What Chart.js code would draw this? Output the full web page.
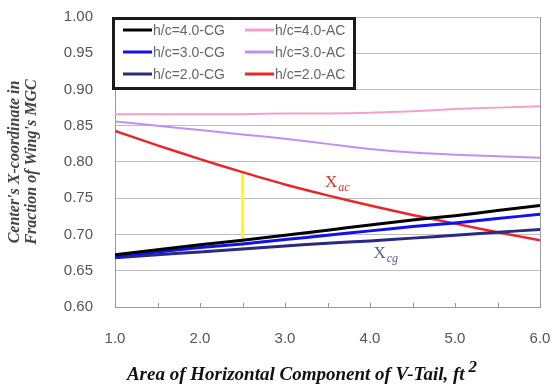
<!DOCTYPE html>
<html><head><meta charset="utf-8">
<script src="https://cdn.jsdelivr.net/npm/chart.js@4.4.0/dist/chart.umd.min.js"></script>
<style>html,body{margin:0;padding:0;background:#fff;}</style>
</head><body>
<canvas id="c" width="552" height="387"></canvas>
<script>
// ---- data ----
const areaValues = [1.0, 1.5, 2.0, 2.5, 3.0, 3.5, 4.0, 4.5, 5.0, 5.5, 6.0];
const cgH40 = [0.672, 0.679, 0.686, 0.692, 0.699, 0.706, 0.713, 0.720, 0.726, 0.733, 0.740];
const cgH30 = [0.670, 0.676, 0.682, 0.687, 0.693, 0.699, 0.705, 0.711, 0.716, 0.722, 0.728];
const cgH20 = [0.668, 0.672, 0.676, 0.680, 0.684, 0.688, 0.691, 0.695, 0.699, 0.703, 0.707];
const acH40 = [0.866, 0.866, 0.866, 0.866, 0.867, 0.867, 0.868, 0.870, 0.873, 0.875, 0.877];
const acH30 = [0.856, 0.850, 0.844, 0.838, 0.832, 0.825, 0.818, 0.813, 0.810, 0.808, 0.806];
const acH20 = [0.843, 0.823, 0.804, 0.786, 0.769, 0.754, 0.740, 0.727, 0.715, 0.703, 0.692];
const marginX = [2.5, 2.5];
const marginY = [0.681, 0.786];
const seriesNames = ['h/c=4.0-CG', 'h/c=3.0-CG', 'h/c=2.0-CG', 'h/c=4.0-AC', 'h/c=3.0-AC', 'h/c=2.0-AC'];
const xTickLabels = ['1.0', '2.0', '3.0', '4.0', '5.0', '6.0'];
const xTickMarks = [1.5, 2.0, 2.5, 3.0, 3.5, 4.0, 4.5, 5.0, 5.5];
const yAxisTitle = ["Center's X-coordinate in", "Fraction of Wing's MGC"];
const xAxisTitle = 'Area of Horizontal Component of V-Tail, ft';
const xAxisTitleSup = '2';
const acLabel = { x: 3.47, y: 0.766, main: 'X', sub: 'ac' };
const cgLabel = { x: 4.04, y: 0.667, main: 'X', sub: 'cg' };

// ---- styles ----
const seriesStyles = [
  { color: '#000000', width: 3 },
  { color: '#1010f0', width: 3 },
  { color: '#2a2a80', width: 3 },
  { color: '#f4a0c8', width: 2 },
  { color: '#c090f0', width: 2 },
  { color: '#e8262b', width: 2.5 }
];
const seriesData = [cgH40, cgH30, cgH20, acH40, acH30, acH20];
const toPts = arr => arr.map((v, i) => ({ x: areaValues[i], y: v }));

const order = [3, 4, 0, 1, 2, 5];
const datasets = order.map(i => ({
  label: seriesNames[i],
  data: toPts(seriesData[i]),
  borderColor: seriesStyles[i].color,
  backgroundColor: seriesStyles[i].color,
  borderWidth: seriesStyles[i].width,
  pointRadius: 0,
  tension: 0.3,
  fill: false
}));
datasets.push({
  label: 'margin',
  data: marginX.map((x, i) => ({ x: x, y: marginY[i] })),
  borderColor: '#ffff00',
  borderWidth: 3,
  pointRadius: 0,
  fill: false
});

const overlay = {
  id: 'overlay',
  beforeDatasetsDraw(chart) {
    const { ctx, chartArea: a, scales: { x } } = chart;
    ctx.save();
    ctx.strokeStyle = '#999';
    ctx.lineWidth = 1;
    ctx.beginPath();
    ctx.moveTo(Math.round(a.right) + 0.5, a.top);
    ctx.lineTo(Math.round(a.right) + 0.5, a.bottom);
    xTickMarks.forEach(v => {
      const px = Math.round(x.getPixelForValue(v)) + 0.5;
      ctx.moveTo(px, a.bottom);
      ctx.lineTo(px, a.bottom - 4);
    });
    ctx.stroke();
    ctx.restore();
  },
  afterDraw(chart) {
    const { ctx, chartArea: a, scales: { x, y } } = chart;
    ctx.save();
    const L = a.left - 3, T = a.top, W = 244, H = 73;
    ctx.fillStyle = '#fff';
    ctx.fillRect(L, T, W, H);
    ctx.strokeStyle = '#1a1a1a';
    ctx.lineWidth = 3;
    ctx.strokeRect(L + 1.5, T + 1.5, W - 3, H - 3);
    const rowsY = [T + 13, T + 35, T + 57];
    const colX = [L + 11, L + 133];
    ctx.font = '14px "Liberation Sans", Arial, sans-serif';
    ctx.textBaseline = 'middle';
    ctx.textAlign = 'left';
    for (let i = 0; i < 6; i++) {
      const c = Math.floor(i / 3), r = i % 3;
      const lx = colX[c], ly = rowsY[r];
      ctx.strokeStyle = seriesStyles[i].color;
      ctx.lineWidth = 3;
      ctx.beginPath();
      ctx.moveTo(lx, ly);
      ctx.lineTo(lx + 29, ly);
      ctx.stroke();
      ctx.fillStyle = '#666';
      ctx.fillText(seriesNames[i], lx + 30, ly + 1);
    }
    const drawLab = (lab, col) => {
      const px = x.getPixelForValue(lab.x), py = y.getPixelForValue(lab.y);
      ctx.fillStyle = col;
      ctx.textBaseline = 'alphabetic';
      ctx.font = '17px "Liberation Serif", "Times New Roman", serif';
      ctx.fillText(lab.main, px, py);
      const w = ctx.measureText(lab.main).width;
      ctx.font = 'italic 12px "Liberation Serif", "Times New Roman", serif';
      ctx.fillText(lab.sub, px + w + 1, py + 4);
    };
    drawLab(acLabel, '#d03838');
    drawLab(cgLabel, '#5a5ab0');
    ctx.fillStyle = '#111';
    ctx.textBaseline = 'alphabetic';
    const mainFont = 'bold italic 19px "Liberation Serif", "Times New Roman", serif';
    const supFont = 'bold italic 17px "Liberation Serif", "Times New Roman", serif';
    ctx.font = mainFont;
    const tw = ctx.measureText(xAxisTitle).width;
    ctx.font = supFont;
    const sw = ctx.measureText(xAxisTitleSup).width;
    const cx = 302, by = 380;
    const sx = cx - (tw + sw + 4) / 2;
    ctx.font = mainFont;
    ctx.fillText(xAxisTitle, sx, by);
    ctx.font = supFont;
    ctx.fillText(xAxisTitleSup, sx + tw + 4, by - 8);
    ctx.restore();
  }
};

new Chart(document.getElementById('c'), {
  type: 'line',
  data: { datasets },
  options: {
    responsive: false,
    animation: false,
    layout: { padding: { top: 17, right: 12, left: 0, bottom: 0 } },
    plugins: { legend: { display: false }, tooltip: { enabled: false } },
    scales: {
      x: {
        type: 'linear',
        min: 1, max: 6,
        afterFit: s => { s.height = 80; s.paddingLeft = 0; s.paddingRight = 0; },
        ticks: {
          stepSize: 1,
          padding: 23,
          color: '#555',
          font: { family: '"Liberation Sans", Arial, sans-serif', size: 15 },
          callback: (v) => { const i = Math.round(v - 1); return Math.abs(v - Math.round(v)) < 1e-6 ? xTickLabels[i] : ''; }
        },
        grid: { display: true, drawOnChartArea: false, drawTicks: false },
        border: { display: true, color: '#999', width: 1 }
      },
      y: {
        min: 0.6, max: 1.0,
        afterFit: s => { s.width = 115; s.paddingTop = 0; s.paddingBottom = 0; },
        ticks: {
          stepSize: 0.05,
          padding: 22,
          color: '#555',
          font: { family: '"Liberation Sans", Arial, sans-serif', size: 15 },
          callback: v => v.toFixed(2)
        },
        grid: { color: '#bdbdbd', lineWidth: 1, drawTicks: false },
        border: { display: true, color: '#999', width: 1 },
        title: {
          display: true,
          text: yAxisTitle,
          color: '#444',
          padding: { top: 6, bottom: 0 },
          font: { family: '"Liberation Serif", "Times New Roman", serif', size: 16, style: 'italic', weight: 'bold', lineHeight: 1.08 }
        }
      }
    }
  },
  plugins: [overlay]
});
</script>
</body></html>
